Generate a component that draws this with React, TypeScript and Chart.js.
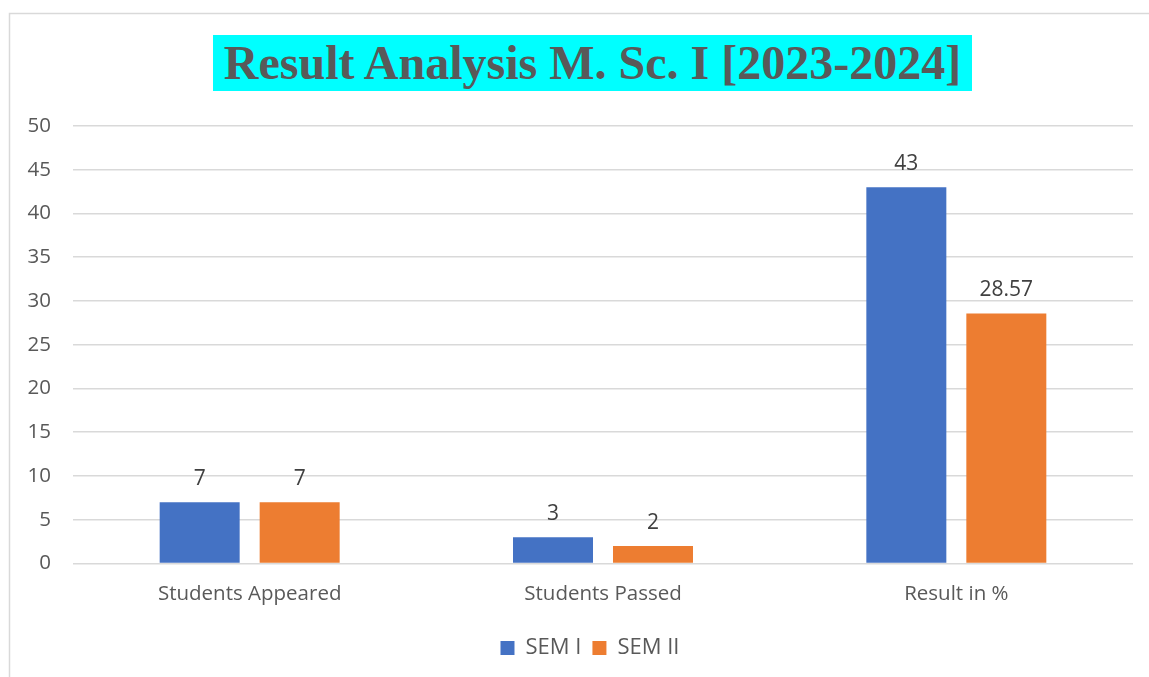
import React, { useEffect, useRef } from "react";
import { Chart, registerables } from "chart.js";

Chart.register(...registerables);

const categories = ["Students Appeared", "Students Passed", "Result in %"];
const sem1Values = [7, 3, 43];
const sem2Values = [7, 2, 28.57];
const seriesNames = ["SEM I", "SEM II"];
const yMin = 0;
const yMax = 50;
const yStep = 5;
const titleText = "Result Analysis M. Sc. I [2023-2024]";

const AXIS_FONT = "'Open Sans', 'Noto Sans', sans-serif";

const frameAndLabels = {
  id: "frameAndLabels",
  afterLayout(chart: any) {
    const lg = chart.legend;
    if (lg) {
      lg.left += 19;
      lg.right += 19;
    }
  },
  beforeDraw(chart: any) {
    const ctx = chart.ctx;
    ctx.save();
    ctx.strokeStyle = "#d9d9d9";
    ctx.lineWidth = 1.5;
    ctx.strokeRect(9.5, 13.5, 1300, 800);
    ctx.restore();
  },
  afterDatasetsDraw(chart: any) {
    const ctx = chart.ctx;
    ctx.save();
    ctx.fillStyle = "#404040";
    ctx.font = `21px ${AXIS_FONT}`;
    ctx.textAlign = "center";
    ctx.textBaseline = "alphabetic";
    chart.data.datasets.forEach((ds: any, i: number) => {
      const meta = chart.getDatasetMeta(i);
      meta.data.forEach((bar: any, j: number) => {
        ctx.fillText(String(ds.data[j]), bar.x, bar.y - 17);
      });
    });
    ctx.restore();
  },
};

export default function App() {
  const ref = useRef<HTMLCanvasElement | null>(null);

  useEffect(() => {
    if (!ref.current) return;
    document.body.style.overflow = "hidden";
    const chart = new Chart(ref.current, {
      type: "bar",
      data: {
        labels: categories,
        datasets: [
          {
            label: seriesNames[0],
            data: sem1Values,
            backgroundColor: "#4472C4",
            categoryPercentage: 0.566,
            barPercentage: 0.8,
          },
          {
            label: seriesNames[1],
            data: sem2Values,
            backgroundColor: "#ED7D31",
            categoryPercentage: 0.566,
            barPercentage: 0.8,
          },
        ],
      },
      options: {
        animation: false,
        responsive: true,
        maintainAspectRatio: false,
        layout: { padding: { left: 9, right: 16, top: 126, bottom: 8 } },
        plugins: {
          title: { display: false },
          tooltip: { enabled: false },
          legend: {
            position: "bottom",
            labels: {
              color: "#595959",
              font: { family: AXIS_FONT, size: 22 },
              boxWidth: 14,
              boxHeight: 14,
              padding: 11,
            },
          },
        },
        scales: {
          x: {
            grid: { display: false },
            border: { display: false },
            afterFit: (scale: any) => {
              scale.height += 10;
            },
            ticks: {
              color: "#595959",
              font: { family: AXIS_FONT, size: 20.5 },
              padding: 10,
            },
          },
          y: {
            min: yMin,
            max: yMax,
            afterFit: (scale: any) => {
              scale.width = 64;
            },
            grid: { color: "#d9d9d9", lineWidth: 1.5, drawTicks: false },
            border: { display: false },
            ticks: {
              stepSize: yStep,
              color: "#595959",
              font: { family: AXIS_FONT, size: 20.5 },
              padding: 22,
            },
          },
        },
      },
      plugins: [frameAndLabels],
    });
    return () => chart.destroy();
  }, []);

  return (
    <div style={{ position: "fixed", left: 0, top: 0, width: 1149, height: 677, background: "#fff" }}>
      <canvas ref={ref} />
      <div
        style={{
          position: "absolute",
          left: 213,
          top: 35,
          width: 759,
          height: 56,
          background: "#00FFFF",
          color: "#595959",
          fontFamily: "'Liberation Serif', 'Times New Roman', serif",
          fontWeight: "bold",
          fontSize: 48,
          lineHeight: "56px",
          textAlign: "center",
          whiteSpace: "nowrap",
        }}
      >
        {titleText}
      </div>
    </div>
  );
}
